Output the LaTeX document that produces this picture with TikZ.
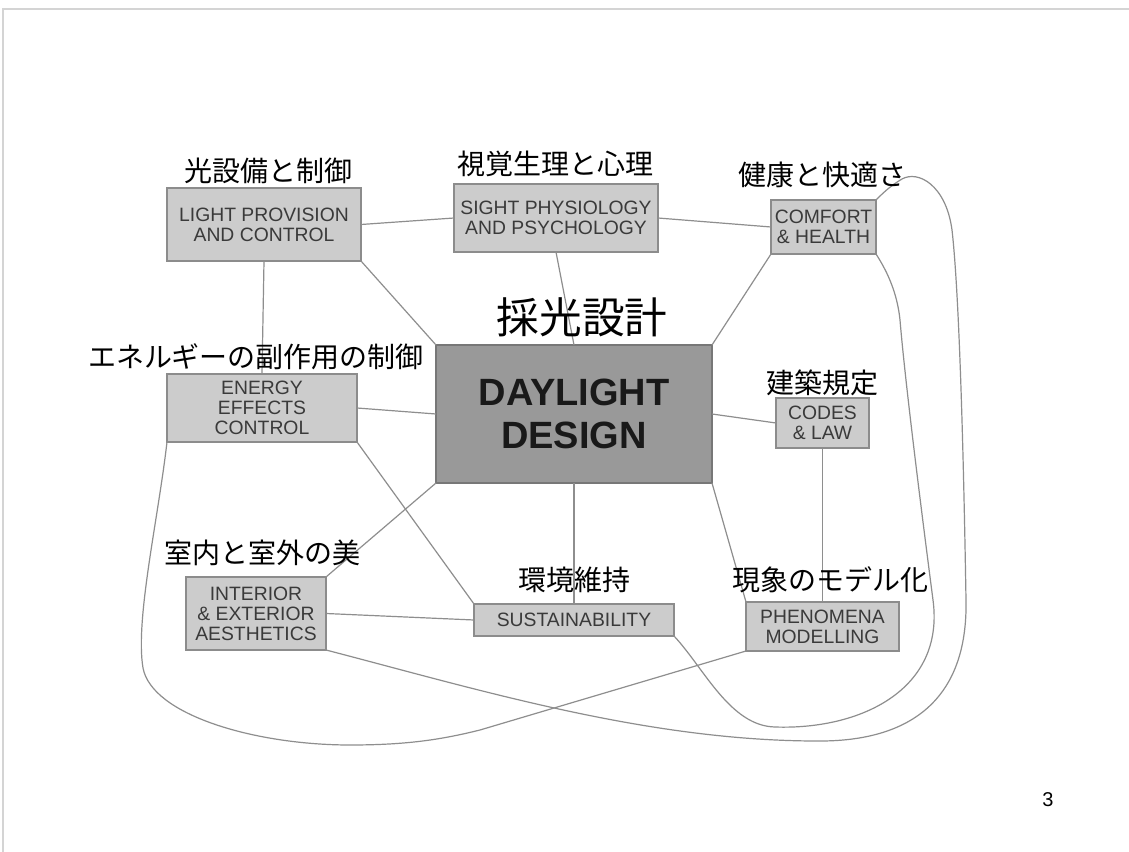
\documentclass[tikz,border=0pt]{standalone}
\usepackage{fontspec}
\newfontfamily\arialf{Liberation Sans}
\newfontfamily\jpf{Noto Sans CJK JP}
\definecolor{boxfill}{HTML}{CCCCCC}
\definecolor{boxline}{HTML}{8C8C8C}
\definecolor{centerfill}{HTML}{999999}
\definecolor{centerline}{HTML}{777777}
\definecolor{linkc}{HTML}{8E8E8E}
\definecolor{boxtext}{HTML}{3A3A3A}
\definecolor{framec}{HTML}{D4D4D4}
\tikzset{
  topic/.style={draw=boxline, line width=1.1pt, fill=boxfill, inner sep=0pt, outer sep=0pt,
    align=center, text=boxtext, font=\arialf\fontsize{14.5}{15}\selectfont},
  core/.style={draw=centerline, line width=1.1pt, fill=centerfill, inner sep=0pt, outer sep=0pt,
    align=center, text=black!90, font=\arialf\bfseries\fontsize{28.5}{32}\selectfont},
  jlabel/.style={inner sep=0pt, font=\jpf\fontsize{21}{24}\selectfont},
  link/.style={draw=linkc, line width=0.9pt}
}
\begin{document}
\begin{tikzpicture}[x=0.75pt,y=-0.75pt]
\useasboundingbox (0,0) rectangle (1129,852);
\fill[white] (0,0) rectangle (1129,852);
% slide frame
\coordinate (ftl) at (3,9);
\coordinate (ftr) at (1129,9);
\coordinate (fbl) at (3,852);
\draw[framec, line width=1.4pt] (ftr) -- (ftl) -- (fbl);

\coordinate (a1) at (823,741);
\coordinate (a2) at (966,600);
\coordinate (a3) at (952,230);
\coordinate (a4) at (902,179);

% boxes
\node[topic, minimum width=145.5pt, minimum height=54.75pt] (lp) at (264,224.5) {LIGHT PROVISION\\AND CONTROL};
\node[topic, minimum width=153pt, minimum height=51pt] (sp) at (556,218) {SIGHT PHYSIOLOGY\\AND PSYCHOLOGY};
\node[topic, minimum width=78.75pt, minimum height=40.5pt] (ch) at (823.5,227) {COMFORT\\\&\ HEALTH};
\node[core, minimum width=207pt, minimum height=103.5pt] (dd) at (574,414) {DAYLIGHT\\DESIGN};
\node[topic, minimum width=142.5pt, minimum height=51pt] (ee) at (262,408) {ENERGY\\EFFECTS\\CONTROL};
\node[topic, minimum width=69.75pt, minimum height=37.5pt] (cl) at (822.5,423) {CODES\\\&\ LAW};
\node[topic, minimum width=105pt, minimum height=54.75pt] (ie) at (256,613.5) {INTERIOR\\\&\ EXTERIOR\\AESTHETICS};
\node[topic, minimum width=150pt, minimum height=24pt] (su) at (574,620) {SUSTAINABILITY};
\node[topic, minimum width=114.75pt, minimum height=36.75pt] (pm) at (822.5,626.5) {PHENOMENA\\MODELLING};

% straight connectors
\draw[link] (lp.east) -- (sp.west);
\draw[link] (sp.east) -- (ch.west);
\draw[link] (lp.south) -- (ee.north);
\draw[link] (lp.south east) -- (dd.north west);
\draw[link] (sp.south) -- (dd.north);
\draw[link] (ch.south west) -- (dd.north east);
\draw[link] (ee.east) -- (dd.west);
\draw[link] (dd.east) -- (cl.west);
\draw[link] (ee.south east) -- (su.north west);
\draw[link] (dd.south west) -- (ie.north east);
\draw[link] (dd.south) -- (su.north);
\draw[link] (dd.south east) -- (pm.north west);
\draw[link] (cl.south) -- (pm.north);
\draw[link] (ie.east) -- (su.west);

% curved connectors
\draw[link] (ie.south east) .. controls (480,690) and (650,742) .. (a1)
  .. controls (910,740) and (968,700) .. (a2)
  .. controls (964,480) and (960,300) .. (a3)
  .. controls (946,185) and (918,170) .. (a4)
  .. controls (890,186) and (882,194) .. (ch.north east);
\draw[link] (su.south east) .. controls (704,668) and (730,726) .. (775,727)
  .. controls (860,730) and (945,690) .. (933,600)
  .. controls (920,500) and (905,380) .. (900,320)
  .. controls (897,290) and (885,268) .. (ch.south east);
\draw[link] (ee.south west) .. controls (158,520) and (135,620) .. (143,668)
  .. controls (152,715) and (255,745) .. (350,745)
  .. controls (405,745) and (440,740) .. (480,730)
  -- (pm.south west);

% Japanese labels
\node[jlabel] (jlp) at (268,171) {光設備と制御};
\node[jlabel] (jsp) at (555,164) {視覚生理と心理};
\node[jlabel] (jch) at (822,175) {健康と快適さ};
\node[jlabel, font=\jpf\fontsize{32}{36}\selectfont] (jdd) at (582,317) {採光設計};
\node[jlabel] (jee) at (256,357) {エネルギーの副作用の制御};
\node[jlabel] (jcl) at (822,383) {建築規定};
\node[jlabel] (jie) at (262,553) {室内と室外の美};
\node[jlabel] (jsu) at (574,580) {環境維持};
\node[jlabel] (jpm) at (830,580) {現象のモデル化};

% page number
\node[inner sep=0pt, font=\arialf\fontsize{15}{18}\selectfont] (pg) at (1048,800) {3};
\end{tikzpicture}
\end{document}
